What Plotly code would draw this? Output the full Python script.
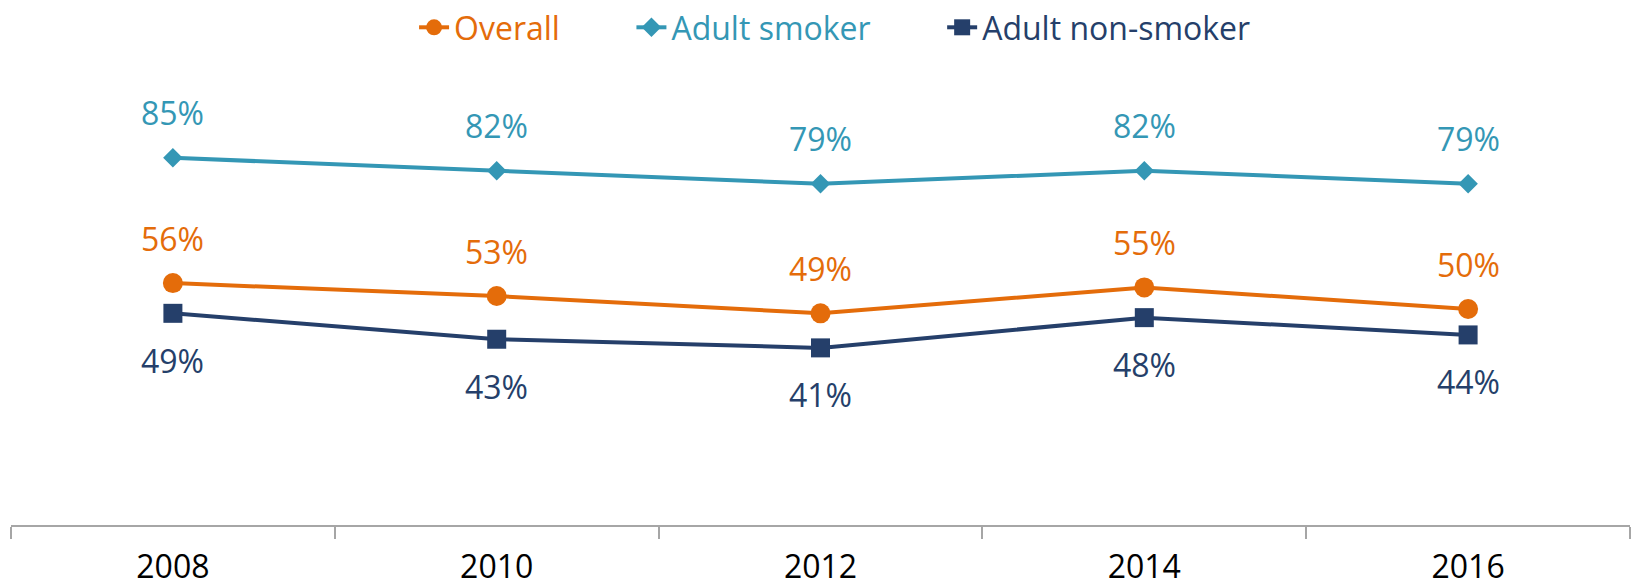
import plotly.graph_objects as go

years = ["2008", "2010", "2012", "2014", "2016"]
overall = [56, 53, 49, 55, 50]
smoker = [85, 82, 79, 82, 79]
non_smoker = [49, 43, 41, 48, 44]

C_OVR = "#E46C0A"
C_SMK = "#3497B5"
C_NON = "#253F6A"
FONT = "Open Sans"

fig = go.Figure()
series = [
    ("Overall", overall, C_OVR, "circle", 20, 45, 8),
    ("Adult smoker", smoker, C_SMK, "diamond", 15, 45, 8),
    ("Adult non-smoker", non_smoker, C_NON, "square", 19, -47, 0),
]
for name, vals, col, sym, sz, shift, pad in series:
    fig.add_trace(go.Scatter(
        x=years, y=vals, mode="lines+markers",
        name=f"<span style='color:{col}'>{name}</span>" + "&nbsp;" * pad,
        line=dict(color=col, width=4),
        marker=dict(symbol=sym, size=sz, color=col),
        hoverinfo="skip",
    ))
    for i, v in enumerate(vals):
        fig.add_annotation(x=i, y=v, xref="x", yref="y", text=f"{v}%", showarrow=False,
                           yshift=shift, font=dict(family=FONT, size=32, color=col))

fig.update_layout(
    width=1632, height=588,
    margin=dict(l=11, r=2, t=93, b=63),
    paper_bgcolor="white", plot_bgcolor="white",
    font=dict(family=FONT),
    showlegend=True,
    legend=dict(orientation="h", x=0.509, xanchor="center", y=1.0, yanchor="top",
                yref="container", font=dict(family=FONT, size=32),
                bgcolor="rgba(0,0,0,0)", borderwidth=0),
    xaxis=dict(type="category", range=[-0.5, 4.5], showline=True, linecolor="#A6A6A6",
               linewidth=2, ticks="outside", tickson="boundaries", ticklen=12,
               tickcolor="#A6A6A6", tickwidth=2, showgrid=False, ticklabelstandoff=13,
               automargin=False,
               tickfont=dict(family=FONT, size=32, color="black")),
    yaxis=dict(range=[0, 100], visible=False, showgrid=False, zeroline=False),
)
fig.write_html("out.html", config={"displayModeBar": False},
               post_script="document.body.style.margin='0';document.body.style.overflow='hidden';")
